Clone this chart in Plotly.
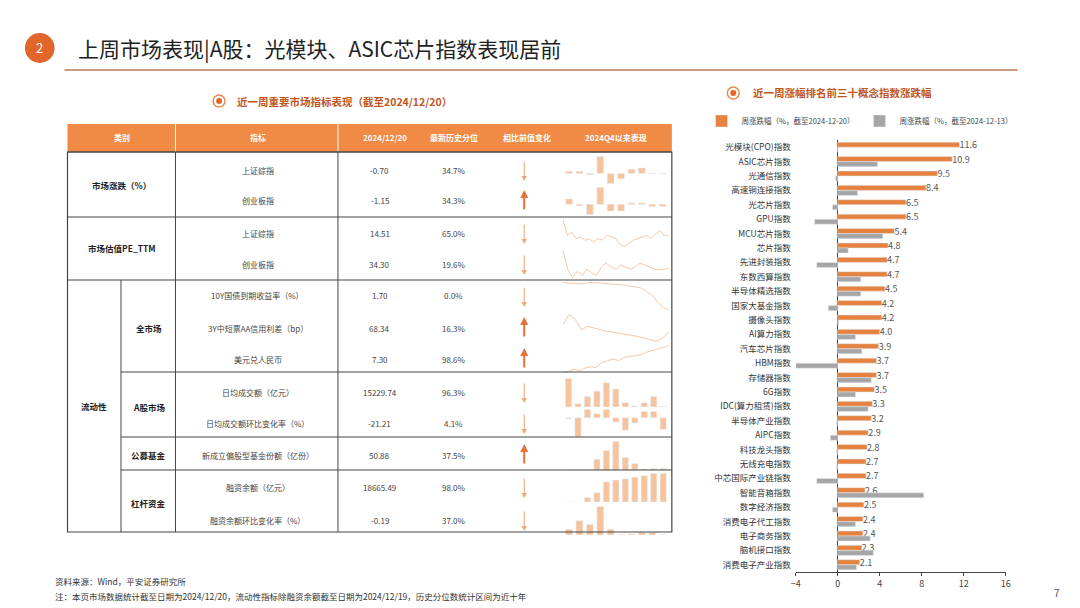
import plotly.graph_objects as go

W, H = 1080, 608
OFF = 8  # page body margin
def X(px): return (px - OFF) / W
def Y(py): return 1 - (py - OFF) / H

FONT = "Noto Sans CJK SC"
ORANGE = "#E5823F"
GRAY = "#A6A6A6"
PEACH = "#F7C39C"

# ---------------- right chart data ----------------
cats = ["光模块(CPO)指数", "ASIC芯片指数", "光通信指数", "高速铜连接指数", "光芯片指数", "GPU指数",
        "MCU芯片指数", "芯片指数", "先进封装指数", "东数西算指数", "半导体精选指数", "国家大基金指数",
        "摄像头指数", "AI算力指数", "汽车芯片指数", "HBM指数", "存储器指数", "6G指数",
        "IDC(算力租赁)指数", "半导体产业指数", "AIPC指数", "科技龙头指数", "无线充电指数",
        "中芯国际产业链指数", "智能音箱指数", "数字经济指数", "消费电子代工指数", "电子商务指数",
        "脑机接口指数", "消费电子产业指数"]
week_1220 = [11.6, 10.9, 9.5, 8.4, 6.5, 6.5, 5.4, 4.8, 4.7, 4.7, 4.5, 4.2, 4.2, 4.0, 3.9, 3.7, 3.7,
             3.5, 3.3, 3.2, 2.9, 2.8, 2.7, 2.7, 2.6, 2.5, 2.4, 2.4, 2.3, 2.1]
week_1213 = [0.0, 3.8, -0.2, 1.9, -0.5, -2.2, 4.3, 1.0, -2.0, 2.2, 2.2, -0.9, 0.1, 1.7, 2.3, -4.0, 3.2,
             1.7, 2.9, -0.1, -0.7, -0.1, -0.1, -2.0, 8.2, -0.5, 1.7, 3.1, 3.4, 1.8]

# ---------------- table data ----------------
tbl_rows = [
    ("上证综指", "-0.70", "34.7%", "down", 170),
    ("创业板指", "-1.15", "34.3%", "up", 201),
    ("上证综指", "14.51", "65.0%", "down", 233),
    ("创业板指", "34.30", "19.6%", "down", 264),
    ("10Y国债到期收益率（%）", "1.70", "0.0%", "down", 296),
    ("3Y中短票AA信用利差（bp）", "68.34", "16.3%", "up", 328),
    ("美元兑人民币", "7.30", "98.6%", "up", 359),
    ("日均成交额（亿元）", "15229.74", "96.3%", "down", 392),
    ("日均成交额环比变化率（%）", "-21.21", "4.1%", "down", 423),
    ("新成立偏股型基金份额（亿份）", "50.88", "37.5%", "up", 455),
    ("融资余额（亿元）", "18665.49", "98.0%", "down", 487),
    ("融资余额环比变化率（%）", "-0.19", "37.0%", "down", 520),
]
spark_sh_chg = [0.3, 0.3, -0.2, 2.5, -1.5, -0.8, 0.6, 0.8, -0.1, -0.1]
spark_cy_chg = [0.8, -0.2, -1.5, 2.5, -1.0, -1.0, 0.2, 0.2, -0.3, -0.3]
spark_sh_pe = [110, 60, 70, 50, 55, 45, 48, 40, 50, 45, 60, 55, 50, 30, 25, 35, 45, 50, 55, 60, 50, 65, 75, 60, 58]
spark_cy_pe = [85, 40, 20, 35, 25, 40, 30, 25, 45, 55, 45, 40, 50, 45, 40, 45, 55, 50, 45, 40, 38, 40, 42]
spark_10y = [90, 88, 87, 86, 88, 90, 89, 88, 86, 85, 84, 83, 80, 78, 75, 65, 55, 35, 20, 15]
spark_3y = [70, 100, 85, 55, 65, 60, 55, 50, 48, 45, 42, 40, 35, 30, 25, 20, 30, 50]
spark_usd = [25, 28, 35, 30, 38, 42, 40, 55, 60, 65, 60, 70, 72, 75, 78, 85, 90, 95, 100, 105]
spark_turnover = [2.7, 0.3, 1.0, 1.5, 2.3, 1.7, 0.4, 0.1, 0.4, 1.0, 0.05]
spark_turn_chg = [-0.1, -1.8, 0.8, 0.4, 0.8, -0.4, -1.2, -0.5, 0.6, 0.6, -1.1]
spark_fund = [0, 0, 0, 30, 55, 80, 35, 18, 3, 4, 4]
spark_margin = [0, 0, 12, 25, 55, 60, 63, 68, 72, 78, 78]
spark_margin_chg = [12, 30, 22, 60, 12, 1, 2, 5, 5, 1]

sparks = [
    (spark_sh_chg, "bar", 170), (spark_cy_chg, "bar", 201),
    (spark_sh_pe, "line", 233), (spark_cy_pe, "line", 264),
    (spark_10y, "line", 296), (spark_3y, "line", 328), (spark_usd, "line", 359),
    (spark_turnover, "bar", 392), (spark_turn_chg, "bar", 423),
    (spark_fund, "bar", 455), (spark_margin, "bar", 487), (spark_margin_chg, "bar", 520),
]

fig = go.Figure()

fig.add_trace(go.Bar(y=cats, x=week_1220, orientation="h", marker_color=ORANGE,
                     name="周涨跌幅（%，截至2024-12-20）", text=[f"{v:.1f}" for v in week_1220],
                     textposition="outside", constraintext="none",
                     textfont=dict(size=9, color="#555"), cliponaxis=False))
fig.add_trace(go.Bar(y=cats, x=week_1213, orientation="h", marker_color=GRAY,
                     name="周涨跌幅（%，截至2024-12-13）"))

layout = dict(
    width=W, height=H, margin=dict(l=0, r=0, t=0, b=0),
    paper_bgcolor="white", plot_bgcolor="white",
    font=dict(family=FONT, size=9, color="#333"),
    barmode="group", bargap=0.3, bargroupgap=0,
    showlegend=True,
    legend=dict(orientation="h", x=X(703), y=Y(121), xanchor="left", yanchor="middle",
                font=dict(size=7.5, color="#444"), itemwidth=30,
                bgcolor="rgba(0,0,0,0)"),
    xaxis=dict(domain=[X(798), X(1010)], range=[-4, 16], tickvals=[-4, 0, 4, 8, 12, 16],
               showline=True, linecolor="#444", ticks="outside", ticklen=3, showgrid=False,
               zeroline=True, zerolinecolor="#444", zerolinewidth=1, anchor="y",
               tickfont=dict(size=9, color="#444")),
    yaxis=dict(domain=[Y(572), Y(140)], autorange="reversed", showgrid=False,
               tickfont=dict(size=8.5, color="#333"), ticks="", anchor="x", ticklabelstandoff=4),
)

shapes, annos = [], []

def txt(x, y, s, size=9, color="#333", bold=False, xanchor="center"):
    annos.append(dict(x=X(x), y=Y(y), xref="paper", yref="paper", text=f"<b>{s}</b>" if bold else s,
                      showarrow=False, font=dict(size=size, color=color, family=FONT),
                      xanchor=xanchor, yanchor="middle"))

def line(x0, y0, x1, y1, color="#444", w=1):
    shapes.append(dict(type="line", xref="paper", yref="paper", x0=X(x0), y0=Y(y0), x1=X(x1), y1=Y(y1),
                       line=dict(color=color, width=w)))

shapes.append(dict(type="circle", xref="paper", yref="paper", x0=X(20), y0=Y(33), x1=X(50), y1=Y(63),
                   fillcolor="#E2652C", line=dict(width=0)))
txt(35, 48, "2", 13, "white")
txt(72, 48, "上周市场表现|A股：光模块、ASIC芯片指数表现居前", 21, "#222", xanchor="left")
line(60, 70, 1022, 70, "#B87A52", 1.5)
txt(1062, 592, "7", 10, "#555")

for cx, cy, s, tx in [(216, 101, "近一周重要市场指标表现（截至2024/12/20）", 232),
                      (735, 93, "近一周涨幅排名前三十概念指数涨跌幅", 753)]:
    shapes.append(dict(type="circle", xref="paper", yref="paper", x0=X(cx - 6), y0=Y(cy - 6),
                       x1=X(cx + 6), y1=Y(cy + 6), line=dict(color="#E98A4E", width=1.5)))
    shapes.append(dict(type="circle", xref="paper", yref="paper", x0=X(cx - 3), y0=Y(cy - 3),
                       x1=X(cx + 3), y1=Y(cy + 3), fillcolor="#E2652C", line=dict(width=0)))
    txt(tx, cy, s, 10.5, "#C0561E", bold=True, xanchor="left")

shapes.append(dict(type="rect", xref="paper", yref="paper", x0=X(63), y0=Y(124), x1=X(673), y1=Y(152),
                   fillcolor="#F08A45", line=dict(width=0)))
for xh, s in [(118, "类别"), (255, "指标"), (383, "2024/12/20"), (453, "最新历史分位"),
              (527, "相比前值变化"), (617, "2024Q4以来表现")]:
    txt(xh, 138, s, 8, "white", bold=True)
for xv in [172, 336]:
    line(xv, 124, xv, 152, "white", 1)
shapes.append(dict(type="rect", xref="paper", yref="paper", x0=X(63), y0=Y(152), x1=X(673), y1=Y(532),
                   line=dict(color="#444", width=1.2)))
line(63, 152, 673, 152, "#444", 1.2)
line(63, 217, 673, 217)
line(63, 280, 673, 280)
for yy in [372, 437, 470]:
    line(117, yy, 673, yy)
line(172, 152, 172, 280)
line(117, 280, 117, 532)
line(172, 280, 172, 532)
line(336, 152, 336, 532)

txt(118, 185, "市场涨跌（%）", 8.5, "#222", True)
txt(118, 248, "市场估值PE_TTM", 8.5, "#222", True)
txt(90, 406, "流动性", 8.5, "#222", True)
txt(145, 328, "全市场", 8.5, "#222", True)
txt(145, 407, "A股市场", 8.5, "#222", True)
txt(145, 455, "公募基金", 8.5, "#222", True)
txt(145, 503, "杠杆资金", 8.5, "#222", True)

for name, val, pct, direc, yy in tbl_rows:
    txt(255, yy, name, 8, "#444")
    txt(378, yy, val, 8, "#444")
    txt(453, yy, pct, 8, "#444")
    if direc == "down":
        annos.append(dict(x=X(524), y=Y(yy + 11), xref="paper", yref="paper", ax=0, ay=-21, text="",
                          showarrow=True, arrowhead=2, arrowsize=1, arrowwidth=1, arrowcolor="#EFA578"))
    else:
        annos.append(dict(x=X(524), y=Y(yy - 11), xref="paper", yref="paper", ax=0, ay=21, text="",
                          showarrow=True, arrowhead=2, arrowsize=0.8, arrowwidth=2, arrowcolor="#E4733A"))

for i, (data, kind, yy) in enumerate(sparks):
    n = i + 2
    xs = list(range(len(data)))
    if kind == "bar":
        fig.add_trace(go.Bar(x=xs, y=data, marker_color=PEACH, xaxis=f"x{n}", yaxis=f"y{n}",
                             showlegend=False, width=0.65))
    else:
        fig.add_trace(go.Scatter(x=xs, y=data, mode="lines", line=dict(color="#F1C9A8", width=1),
                                 xaxis=f"x{n}", yaxis=f"y{n}", showlegend=False))
    layout[f"xaxis{n}"] = dict(domain=[X(563), X(670)], anchor=f"y{n}", visible=False,
                               range=[-0.6, len(data) - 0.4] if kind == "bar" else None)
    layout[f"yaxis{n}"] = dict(domain=[Y(yy + 15), Y(yy - 15)], anchor=f"x{n}", visible=False)

txt(48, 581, "资料来源：Wind，平安证券研究所", 8.5, "#333", xanchor="left")
txt(48, 596, "注：本页市场数据统计截至日期为2024/12/20，流动性指标除融资余额截至日期为2024/12/19，历史分位数统计区间为近十年",
    8.5, "#333", xanchor="left")

layout["shapes"] = shapes
layout["annotations"] = annos
fig.update_layout(**layout)
fig.write_html("out.html")
